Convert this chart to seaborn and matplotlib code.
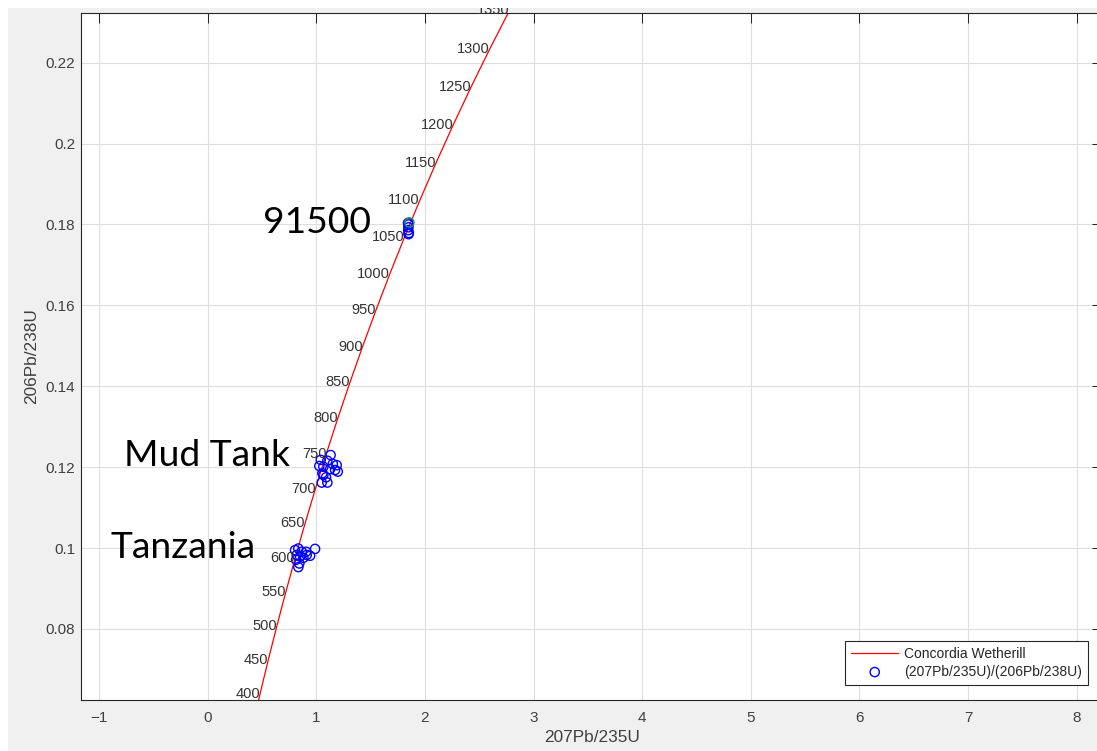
import matplotlib
matplotlib.use("Agg")
import matplotlib.pyplot as plt
import seaborn as sns
import pandas as pd
from matplotlib.patches import Rectangle

# Concordia (Wetherill) points every 50 Ma
ages = [350, 400, 450, 500, 550, 600, 650, 700, 750, 800, 850, 900, 950, 1000,
        1050, 1100, 1150, 1200, 1250, 1300, 1350, 1400]
conc_x = [0.41156, 0.48281, 0.55765, 0.63628, 0.71887, 0.80563, 0.89677, 0.99251,
          1.09308, 1.19873, 1.30971, 1.42630, 1.54876, 1.67741, 1.81255, 1.95452,
          2.10365, 2.26030, 2.42487, 2.59774, 2.77933, 2.97009]
conc_y = [0.055795, 0.06402, 0.07230, 0.08065, 0.089064, 0.097544, 0.10609, 0.114702,
          0.123382, 0.132129, 0.140944, 0.149828, 0.158781, 0.167804, 0.176897, 0.186061,
          0.195296, 0.204603, 0.213989, 0.223435, 0.232961, 0.242562]
label_ages = ages[1:21]

# Measured zircon ratios
std91500_x = [1.845, 1.850, 1.848, 1.846, 1.852, 1.849]
std91500_y = [0.1804, 0.1800, 0.1793, 0.1786, 0.1779, 0.1776]
mudtank_x = [1.132, 1.041, 1.102, 1.152, 1.188, 1.028, 1.173, 1.127, 1.065, 1.198,
             1.056, 1.065, 1.090, 1.050, 1.102]
mudtank_y = [0.1230, 0.1218, 0.1216, 0.1208, 0.1205, 0.1203, 0.1193, 0.1195, 0.1201,
             0.1189, 0.1185, 0.1181, 0.1175, 0.1162, 0.1162]
tanz_x = [0.805, 0.835, 0.866, 0.906, 0.820, 0.851, 0.989, 0.943, 0.881, 0.814,
          0.835, 0.844, 0.912]
tanz_y = [0.0995, 0.0999, 0.0991, 0.0991, 0.0983, 0.0979, 0.0998, 0.0981, 0.0976,
          0.0971, 0.0953, 0.0962, 0.0983]
green_x = [1.857]
green_y = [0.1805]

sample_names = ["91500", "Mud Tank", "Tanzania"]
sample_label_x = [0.51, -0.77, -0.898]
sample_label_y = [0.1779, 0.1203, 0.09755]

xticks = [-1, 0, 1, 2, 3, 4, 5, 6, 7, 8]
yticks = [0.08, 0.10, 0.12, 0.14, 0.16, 0.18, 0.20, 0.22]
ytick_labels = ["0.08", "0.1", "0.12", "0.14", "0.16", "0.18", "0.2", "0.22"]

sns.set_style("white")
plt.rcParams["font.family"] = ["Liberation Sans", "DejaVu Sans"]

W, H = 1097, 751
fig = plt.figure(figsize=(W / 100, H / 100), dpi=100, facecolor="#f0f0f0")
L, B, R, T = 81.3 / W, (H - 700.3) / H, 1102 / W, (H - 12.7) / H
ax = fig.add_axes([L, B, R - L, T - B])
ax.set_facecolor("white")

sns.lineplot(x=conc_x, y=conc_y, sort=False, estimator=None, color="#ff0000",
             lw=0.9, ax=ax, label="Concordia Wetherill")

pts = pd.DataFrame({
    "x": std91500_x + mudtank_x + tanz_x,
    "y": std91500_y + mudtank_y + tanz_y,
})
sns.scatterplot(data=pts, x="x", y="y", marker="o", s=44, facecolors="none",
                edgecolors="#0000ff", linewidth=1.0, ax=ax,
                label="(207Pb/235U)/(206Pb/238U)", zorder=3)
sns.scatterplot(x=green_x, y=green_y, marker="o", s=44, facecolors="none",
                edgecolors="#1a9a5a", linewidth=1.0, ax=ax, legend=False, zorder=4)

for a, x, y in zip(label_ages, conc_x[1:21], conc_y[1:21]):
    ax.text(x, y, str(a), ha="right", va="center", fontsize=10.5,
            color="#333333", clip_on=False, zorder=5)

for name, x, y in zip(sample_names, sample_label_x, sample_label_y):
    ax.text(x, y, name, ha="left", va="baseline", fontsize=26.8,
            family=["Lato", "DejaVu Sans"], color="black", zorder=6)

ax.set_xlim(-1.163, 8.233)
ax.set_ylim(0.06237, 0.23236)
ax.set_xticks(xticks)
ax.set_yticks(yticks)
ax.set_yticklabels(ytick_labels)
ax.tick_params(direction="in", length=7.5, width=0.75, colors="#262626",
               labelcolor="#404040", labelsize=11, top=True, right=True)
ax.tick_params(axis="x", pad=8)
ax.tick_params(axis="y", pad=4.3)
ax.grid(True, color="#dedede", lw=0.8)
ax.set_axisbelow(True)
for sp in ax.spines.values():
    sp.set_color("#262626")
    sp.set_linewidth(0.8)

ax.set_xlabel("207Pb/235U", fontsize=12.4, color="#404040", labelpad=3)
ax.set_ylabel("206Pb/238U", fontsize=12.4, color="#404040", labelpad=5)

leg = ax.legend(loc="lower right", bbox_to_anchor=(0.9863, 0.0223), borderaxespad=0,
                fontsize=10, frameon=True, fancybox=False, edgecolor="#262626",
                framealpha=1, handlelength=3.4, handletextpad=0.4,
                labelspacing=0.25, borderpad=0.45)
leg.get_frame().set_linewidth(0.8)

# white outer strips (top and left) as in the screenshot
fig.add_artist(Rectangle((0, 1 - 8 / H), 1, 8 / H, transform=fig.transFigure,
                         facecolor="white", edgecolor="none", zorder=20))
fig.add_artist(Rectangle((0, 0), 8 / W, 1, transform=fig.transFigure,
                         facecolor="white", edgecolor="none", zorder=20))

fig.savefig("out.png", dpi=100, facecolor=fig.get_facecolor())
